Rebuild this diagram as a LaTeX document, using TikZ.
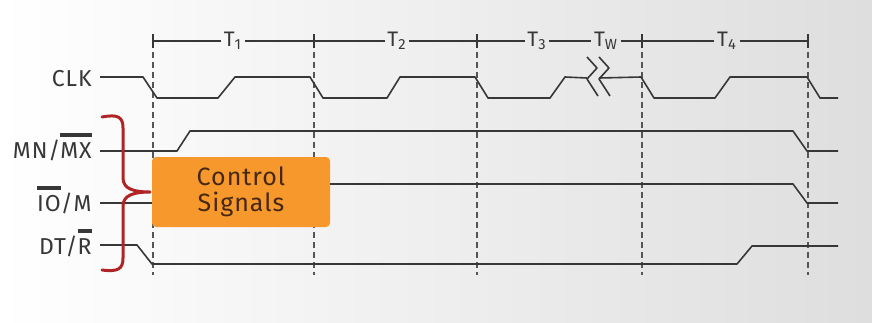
\documentclass[tikz,border=0pt]{standalone}
\usepackage{fontspec}
\setmainfont{Fira Sans}[LetterSpace=4]

\definecolor{sig}{RGB}{55,55,55}
\definecolor{boxorange}{RGB}{247,152,45}
\definecolor{boxtext}{RGB}{70,40,18}
\definecolor{bracered}{RGB}{176,36,38}

% active-low names get a heavy bar
\newcommand\barred[1]{\leavevmode\vbox{\hrule height 1.9pt\kern 2.6pt\hbox{#1}}}

\begin{document}
\begin{tikzpicture}[x=0.5pt,y=-0.5pt,
  wave/.style={draw=sig,line width=0.8pt,line join=round},
  grid line/.style={draw=sig!85,line width=0.9pt,dash pattern=on 3pt off 2pt},
  signame/.style={anchor=base east,text=sig,inner sep=0pt,font=\fontsize{11.5}{12}\selectfont},
  period/.style={text=sig,inner sep=1.2pt,font=\fontsize{10.5}{12}\selectfont},
  ctrlbox/.style={fill=boxorange,rounded corners=2pt,text=boxtext,align=center,
    minimum width=89pt,minimum height=35pt,inner sep=0pt,
    font=\fontsize{12.5}{13}\selectfont}]

% background
\shade[left color=white,right color=black!13] (0,0) rectangle (872,322);
\useasboundingbox (0,0) rectangle (872,322);

% period bar, ticks and dashed guides
\foreach \i/\x in {1/153,2/314,3/477,4/642,5/808} {
  \coordinate (b\i) at (\x,41);
  \draw[wave] (\x,34) -- (\x,48);
  \draw[grid line] (\x,52) -- (\x,275);
}
\node[period] (T1) at (233,41) {T\textsubscript{1}};
\node[period] (T2) at (397,41) {T\textsubscript{2}};
\node[period] (T3) at (537,41) {T\textsubscript{3}};
\node[period] (Tw) at (606,41) {T\textsubscript{W}};
\node[period] (T4) at (727,41) {T\textsubscript{4}};
\draw[wave] (b1) -- (T1) -- (b2) -- (T2) -- (b3) -- (T3) -- (Tw) -- (b4) -- (T4) -- (b5);

% signal names
\node[signame] (clk) at (92,86) {CLK};
\node[signame] (mnmx) at (92,158) {MN/\barred{MX}};
\node[signame] (iom) at (92,211) {\barred{IO}/M};
\node[signame] (dtr) at (92,254) {DT/\barred{R}};

% clock
\draw[wave] (100,77) -- (143,77) -- (157,98) -- (218,98) -- (235,77) -- (310,77)
  -- (323,98) -- (387,98) -- (400,77) -- (475,77) -- (488,98) -- (550,98)
  -- (565,77) -- (587,78);
\draw[wave] (599,78) -- (641,77) -- (654,98) -- (715,98) -- (730,77) -- (807,77)
  -- (820,98) -- (838,98);
% wait-state break
\draw[wave] (587,57) -- (597,68) -- (587,79) -- (598,96);
\draw[wave] (599,57) -- (609,68) -- (599,79) -- (610,96);

% MN/MX
\draw[wave] (100,151) -- (177,151) -- (190,131) -- (793,131) -- (807,151) -- (838,151);
% IO/M
\draw[wave] (100,203) -- (153,203);
\draw[wave] (329,184) -- (793,184) -- (807,203) -- (838,203);
% DT/R
\draw[wave] (100,245) -- (137,245) -- (152,264) -- (737,264) -- (752,246) -- (838,246);

% control signals box
\node[ctrlbox] (ctrl) at (241,192) {Control\\Signals};

% brace grouping the three control lines
\draw[bracered,line width=1.5pt,line cap=round,line join=round]
  (102,117) .. controls (118,114) and (123,117) .. (123,128) -- (123,178)
  .. controls (123,189) and (134,192) .. (150,192)
  .. controls (134,192) and (123,195) .. (123,206) -- (123,258)
  .. controls (123,269) and (118,272) .. (102,270);
\end{tikzpicture}
\end{document}
